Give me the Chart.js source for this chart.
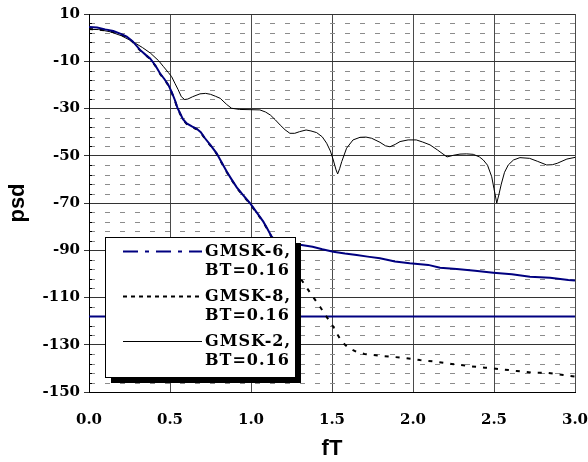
<!DOCTYPE html>
<html><head><meta charset="utf-8">
<script src="https://cdn.jsdelivr.net/npm/chart.js@4/dist/chart.umd.min.js"></script>
<style>html,body{margin:0;padding:0;background:#fff}</style>
</head><body>
<canvas id="c" width="588" height="462"></canvas>
<script>
// ---- data ----
const xTickLabels = ['0.0','0.5','1.0','1.5','2.0','2.5','3.0'];
const yTickValues = [10,-10,-30,-50,-70,-90,-110,-130,-150];

const gmsk6F   = [0,0.05,0.10,0.15,0.20,0.233,0.27,0.315,0.35,0.377,0.41,0.438,0.465,0.49,0.51,0.53,0.545,0.562,0.58,0.603,0.635,0.665,0.69,0.716,0.75,0.788,0.82,0.85,0.88,0.912,0.95,0.994,1.035,1.076,1.10,1.128,1.16,1.20,1.25,1.312,1.38,1.44,1.508,1.58,1.652,1.72,1.796,1.889,1.98,2.094,2.167,2.27,2.383,2.496,2.61,2.722,2.846,2.959,3.0];
const gmsk6Psd = [4.5,4.3,3.5,2.8,1.5,0.4,-1.6,-5.2,-7.3,-8.8,-11.8,-15.1,-17.5,-20,-23,-26.4,-29.5,-32,-34.5,-36.3,-37.6,-38.6,-40,-42.6,-45.5,-49,-53,-56.7,-60,-63.4,-66.6,-70.1,-74,-77.9,-80.8,-84.3,-86.3,-87.0,-87.4,-87.8,-88.5,-89.6,-90.6,-91.4,-92,-92.7,-93.4,-94.8,-95.5,-96.2,-97.4,-97.9,-98.7,-99.5,-100.2,-101.2,-101.6,-102.6,-102.8];

const gmsk8F   = [0,0.05,0.10,0.15,0.20,0.233,0.27,0.315,0.35,0.377,0.41,0.438,0.465,0.49,0.51,0.53,0.545,0.562,0.58,0.603,0.635,0.665,0.69,0.716,0.75,0.788,0.82,0.85,0.88,0.912,0.95,0.994,1.035,1.076,1.10,1.128,1.16,1.20,1.25,1.312,1.37,1.426,1.47,1.508,1.535,1.56,1.60,1.65,1.70,1.755,1.80,1.858,1.96,2.043,2.146,2.238,2.341,2.444,2.537,2.64,2.732,2.825,2.928,3.0];
const gmsk8Psd = [3.6,3.5,3.0,2.4,1.2,0.2,-1.8,-5.4,-7.5,-9.0,-12.0,-15.3,-17.7,-20.2,-23.2,-26.6,-29.7,-32.2,-34.7,-36.5,-37.8,-38.8,-40.2,-42.8,-45.7,-49.2,-53.2,-56.9,-60.2,-63.6,-66.8,-70.3,-74.2,-78.1,-81,-84.5,-88,-92,-97,-102.6,-108.5,-113.9,-118.5,-122.4,-125.8,-128.7,-131.2,-133,-133.9,-134.3,-134.7,-135,-135.7,-136.5,-137.2,-138.1,-139,-139.7,-140.3,-141.1,-141.8,-141.8,-142.8,-143.5];

const gmsk2F   = [0,0.06,0.13,0.20,0.27,0.33,0.38,0.43,0.46,0.49,0.51,0.53,0.55,0.57,0.59,0.61,0.64,0.685,0.72,0.75,0.78,0.81,0.85,0.88,0.93,1.00,1.055,1.09,1.12,1.15,1.18,1.21,1.24,1.27,1.30,1.34,1.37,1.405,1.44,1.467,1.49,1.508,1.525,1.535,1.547,1.56,1.59,1.63,1.673,1.71,1.745,1.796,1.83,1.858,1.89,1.92,1.97,2.02,2.06,2.105,2.15,2.21,2.25,2.29,2.33,2.372,2.41,2.434,2.46,2.486,2.50,2.517,2.53,2.545,2.565,2.588,2.62,2.66,2.72,2.77,2.825,2.86,2.89,2.95,3.0];
const gmsk2Psd = [3.5,3.4,2.5,0.8,-1.7,-4.2,-6.6,-9.8,-12.3,-14.8,-16.5,-19.3,-22,-25,-26.2,-26,-25,-23.8,-23.6,-24,-24.8,-25.7,-28.3,-29.9,-30.4,-30.5,-30.6,-31.5,-32.8,-34.8,-37,-39,-40.5,-40.5,-39.8,-39.1,-39.5,-40.2,-42,-44.7,-48,-51.8,-56,-57.7,-55.5,-52.5,-46.8,-43.3,-42.2,-42.1,-42.6,-44.3,-45.8,-46.2,-45.2,-44,-43.3,-43.3,-44.2,-45.4,-47.5,-50.5,-49.8,-49.3,-49.2,-49.4,-50.5,-51.8,-54,-58.9,-64,-70,-66.5,-62,-57,-53.9,-51.8,-50.8,-51.1,-52.4,-53.9,-53.8,-53.2,-51.4,-50.7];

const floorF   = [0, 3.0];
const floorPsd = [-118, -118];

const seriesLabels = ['GMSK-6, BT=0.16','GMSK-8, BT=0.16','GMSK-2, BT=0.16'];

const pts = (xs, ys) => xs.map((x, i) => ({x, y: ys[i]}));
const NAVY = '#000080';

// minor dashed grid + minor ticks
const minorGrid = {
  id: 'minorGrid',
  beforeDatasetsDraw(chart) {
    const {ctx, chartArea: a, scales: {y}} = chart;
    ctx.save();
    ctx.lineWidth = 1;
    for (let v = y.min; v <= y.max; v += 4) {
      if ((v - y.min) % 20 === 0) continue;
      const py = Math.round(y.getPixelForValue(v)) + 0.5;
      ctx.strokeStyle = '#8c8c8c';
      ctx.setLineDash([5, 10]);
      ctx.beginPath(); ctx.moveTo(a.left + 1, py); ctx.lineTo(a.right, py); ctx.stroke();
      ctx.setLineDash([]);
      ctx.strokeStyle = '#000';
      ctx.beginPath(); ctx.moveTo(a.left, py); ctx.lineTo(a.left + 3, py); ctx.stroke();
    }
    ctx.restore();
  }
};

const legendDash = [[15, 7, 4, 7], [4, 4], []];
const legendWidth = [2, 2, 1];
const legendBox = {
  id: 'legendBox',
  afterDraw(chart) {
    const ctx = chart.ctx;
    const L = 105, T = 237, W = 190, H = 140;
    ctx.save();
    ctx.fillStyle = '#000';
    ctx.fillRect(L + 6, T + 6, W, H);
    ctx.fillStyle = '#fff';
    ctx.fillRect(L, T, W, H);
    ctx.strokeStyle = '#000';
    ctx.lineWidth = 1;
    ctx.strokeRect(L + 0.5, T + 0.5, W, H);
    ctx.font = 'bold 16px "DejaVu Serif"';
    ctx.letterSpacing = '1px';
    ctx.textAlign = 'left';
    ctx.textBaseline = 'alphabetic';
    for (let i = 0; i < 3; i++) {
      const ds = chart.data.datasets[i];
      const cy = T + 14 + i * 45;
      ctx.strokeStyle = ds.borderColor;
      ctx.lineWidth = legendWidth[i];
      ctx.setLineDash(legendDash[i]);
      ctx.beginPath(); ctx.moveTo(123, cy + 0.5); ctx.lineTo(202, cy + 0.5); ctx.stroke();
      ctx.setLineDash([]);
      const parts = ds.label.split(' ');
      ctx.fillStyle = '#000';
      ctx.fillText(parts[0], 205, cy + 5);
      ctx.fillText(parts[1], 205, cy + 24);
    }
    ctx.restore();
  }
};

const tickFont = {family: '"DejaVu Serif"', weight: 'bold', size: 15};
const titleFont = {family: '"Liberation Sans"', weight: 'bold', size: 22};

new Chart(document.getElementById('c'), {
  type: 'line',
  data: {
    datasets: [
      {label: seriesLabels[0], data: pts(gmsk6F, gmsk6Psd), borderColor: NAVY, borderWidth: 2},
      {label: seriesLabels[1], data: pts(gmsk8F, gmsk8Psd), borderColor: '#000', borderWidth: 2, borderDash: [4, 7]},
      {label: seriesLabels[2], data: pts(gmsk2F, gmsk2Psd), borderColor: '#000', borderWidth: 1},
      {label: 'floor', data: pts(floorF, floorPsd), borderColor: NAVY, borderWidth: 2}
    ]
  },
  options: {
    responsive: false,
    animation: false,
    devicePixelRatio: 1,
    elements: {point: {radius: 0}, line: {tension: 0, fill: false}},
    layout: {padding: {top: 14, right: 13, left: 0, bottom: 0}},
    plugins: {legend: {display: false}, tooltip: {enabled: false}},
    scales: {
      x: {
        type: 'linear', min: 0, max: 3,
        afterFit: s => { s.height = 70; s.paddingLeft = 0; s.paddingRight = 0; },
        ticks: {stepSize: 0.5, font: tickFont, color: '#000', padding: 19, maxRotation: 0,
          callback: (v, i) => xTickLabels[i]},
        grid: {color: '#4a4a4a', lineWidth: 1, drawTicks: false},
        border: {display: true, color: '#000', width: 1},
        title: {display: true, text: 'fT', font: titleFont, color: '#000', padding: {top: 0, bottom: 0}}
      },
      y: {
        min: -150, max: 10,
        afterFit: s => { s.width = 89; s.paddingTop = 0; s.paddingBottom = 0; },
        afterBuildTicks: s => { s.ticks = yTickValues.slice().reverse().map(v => ({value: v})); },
        ticks: {stepSize: 20, font: tickFont, color: '#000', padding: 4},
        grid: {color: '#333', lineWidth: 1, tickLength: 5, drawTicks: true},
        border: {display: true, color: '#000', width: 1},
        title: {display: true, text: 'psd', font: titleFont, color: '#000', padding: {top: 5, bottom: 0}}
      }
    }
  },
  plugins: [minorGrid, legendBox]
});
</script>
</body></html>
